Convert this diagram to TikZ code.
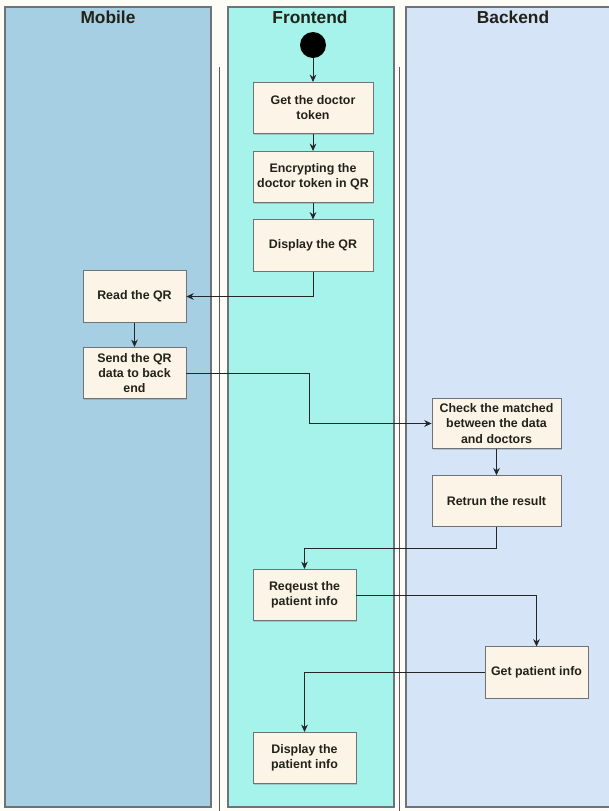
\documentclass[tikz,border=0pt]{standalone}
\usepackage{fontspec}
\setmainfont{Liberation Sans}
\usetikzlibrary{arrows.meta,shadows}
\definecolor{mobilec}{HTML}{A6CFE3}
\definecolor{frontc}{HTML}{A5F3EA}
\definecolor{backc}{HTML}{D6E4F8}
\definecolor{boxc}{HTML}{FDF4E8}
\definecolor{pagec}{HTML}{FDFCF7}
\definecolor{edgec}{HTML}{6E7378}
\definecolor{txtc}{HTML}{222218}
\tikzset{
  lane/.style={draw=edgec, line width=0.8pt},
  sep/.style={draw=edgec!80!black, line width=0.6pt},
  header/.style={font=\fontsize{13}{15}\selectfont\bfseries, text=txtc},
  actbox/.style={rectangle, draw=edgec, fill=boxc, line width=0.6pt, inner sep=0pt,
    align=center, text=txtc, font=\fontsize{9.3}{11.3}\selectfont\bfseries,
    drop shadow={shadow xshift=0.8pt, shadow yshift=-0.8pt, fill=gray, opacity=0.35}},
  wide/.style={actbox, minimum width=90pt, minimum height=38.5pt},
  narrow/.style={actbox, minimum width=77.25pt, minimum height=38.5pt},
  bwide/.style={actbox, minimum width=96.75pt, minimum height=38pt},
  arr/.style={draw=black!85, line width=0.6pt, -{Stealth[length=5.5pt,width=5pt]}}
}
\begin{document}
\begin{tikzpicture}[x=0.75pt,y=-0.75pt]
\useasboundingbox (0,0) rectangle (608,811);
\fill[pagec] (0,0) rectangle (608,811);
% lanes
\path[lane, fill=mobilec] (5,7) rectangle (211,807);
\path[lane, fill=frontc] (228,7) rectangle (394,807);
\path[lane, fill=backc] (406,7) rectangle (612,807);
\draw[sep] (219,67) -- (219,811);
\draw[sep] (399,67) -- (399,811);
% headers
\node[header] (hm) at (108,17) {Mobile};
\node[header] (hf) at (310,17) {Frontend};
\node[header] (hb) at (513,17) {Backend};
% start
\node[circle, fill=black, minimum size=19.5pt, inner sep=0pt] (start) at (313,45) {};
% activities
\node[wide] (n1) at (313,108) {Get the doctor\\token};
\node[wide] (n2) at (313,177) {Encrypting the\\doctor token in QR};
\node[wide] (n3) at (313,245.5) {Display the QR};
\node[narrow] (n4) at (134.5,296.5) {Read the QR};
\node[narrow] (n5) at (134.5,373) {Send the QR\\data to back\\end};
\node[bwide] (n6) at (496.5,423.5) {Check the matched\\between the data\\and doctors};
\node[bwide] (n7) at (496.5,501) {Retrun the result};
\node[narrow] (n8) at (304.5,595) {Reqeust the\\patient info};
\node[narrow] (n9) at (536.5,672.5) {Get patient info};
\node[narrow] (n10) at (304.5,758) {Display the\\patient info};
% connectors
\draw[arr] (start) -- (n1);
\draw[arr] (n1) -- (n2);
\draw[arr] (n2) -- (n3);
\draw[arr] (n3.south) |- (n4.east);
\draw[arr] (n4) -- (n5);
\coordinate (j1) at (309,373);
\draw[arr] (n5.east) -- (j1) |- (n6.west);
\draw[arr] (n6) -- (n7);
\coordinate (j2) at (496.5,548);
\draw[arr] (n7.south) -- (j2) -| (n8.north);
\draw[arr] (n8.east) -| (n9.north);
\draw[arr] (n9.west) -| (n10.north);
\end{tikzpicture}
\end{document}
